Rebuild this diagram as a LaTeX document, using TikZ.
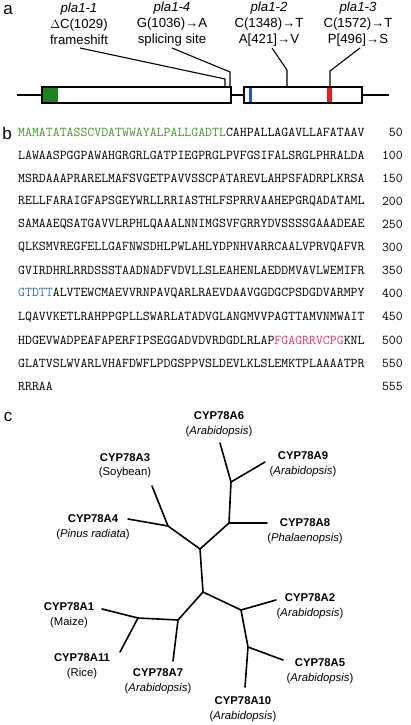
\documentclass[tikz,border=0pt]{standalone}
\usepackage{fontspec}
\setmainfont{Liberation Sans}
\definecolor{seqgreen}{RGB}{70,150,45}
\definecolor{seqblue}{RGB}{55,105,200}
\definecolor{seqpink}{RGB}{232,50,105}
\definecolor{exgreen}{RGB}{30,130,30}
\definecolor{exblue}{RGB}{35,80,220}
\definecolor{exred}{RGB}{230,30,30}
\tikzset{
  panel/.style={font=\fontsize{17}{17}\selectfont, inner sep=0pt},
  mutlab/.style={font=\fontsize{13.2}{16}\selectfont, align=center, inner sep=0pt},
  lead/.style={line width=1.1pt},
  exonbox/.style={draw, line width=1.1pt, fill=white},
  seqline/.style={font=\ttfamily\fontsize{13.45}{14}\selectfont, anchor=west, inner sep=0pt},
  seqnum/.style={font=\ttfamily\fontsize{13.45}{14}\selectfont, anchor=east, inner sep=0pt},
  leaf/.style={font=\fontsize{11.3}{14.5}\selectfont, align=center, inner sep=0pt},
  branch/.style={line width=1.6pt, line cap=round}
}
\begin{document}
\begin{tikzpicture}[x=1pt,y=-1pt]
\useasboundingbox (0,0) rectangle (410,725);
% ---------- panel a ----------
\node[panel] (pa) at (8,10) {a};
\node[mutlab] (m1) at (79,24) {\textit{pla1-1}\\$\Delta$C(1029)\\frameshift};
\node[mutlab] (m4) at (172,24) {\textit{pla1-4}\\G(1036)→A\\splicing site};
\node[mutlab] (m2) at (269,24) {\textit{pla1-2}\\C(1348)→T\\A[421]→V};
\node[mutlab] (m3) at (358,24) {\textit{pla1-3}\\C(1572)→T\\P[496]→S};
% backbone
\coordinate (bl) at (17,95);
\coordinate (br) at (389,95);
\draw[lead] (bl) -- (br);
% exons
\draw[exonbox] (42,87) rectangle (231,103);
\fill[exgreen] (42.6,87.6) rectangle (58,102.4);
\draw[line width=1.1pt] (42,87) rectangle (231,103);
\draw[exonbox] (244,87) rectangle (362,103);
\fill[exblue] (248.5,87.6) rectangle (252.3,102.4);
\fill[exred] (326.8,87.6) rectangle (332.2,102.4);
\draw[line width=1.1pt] (244,87) rectangle (362,103);
% leader lines
\coordinate (s1) at (80,48);   \coordinate (k1) at (225,79); \coordinate (e1) at (225,87);
\coordinate (s4) at (172,48);  \coordinate (k4) at (230,72); \coordinate (e4) at (230,87);
\coordinate (s2) at (272,48);  \coordinate (k2) at (287,70); \coordinate (e2) at (287,87);
\coordinate (s3) at (360,48);  \coordinate (k3) at (330,71); \coordinate (e3) at (330,87);
\draw[lead] (s1) -- (k1) -- (e1);
\draw[lead] (s4) -- (k4) -- (e4);
\draw[lead] (s2) -- (k2) -- (e2);
\draw[lead] (s3) -- (k3) -- (e3);
% ---------- panel b ----------
\node[panel] (pb) at (7,133) {b};
\node[seqline] (q1) at (18,132) {{\color{seqgreen}MAMATATASSCVDATWWAYALPALLGADTL}CAHPALLAGAVLLAFATAAV};
\node[seqline] (q2) at (18,155.1) {LAWAASPGGPAWAHGRGRLGATPIEGPRGLPVFGSIFALSRGLPHRALDA};
\node[seqline] (q3) at (18,178.2) {MSRDAAAPRARELMAFSVGETPAVVSSCPATAREVLAHPSFADRPLKRSA};
\node[seqline] (q4) at (18,201.3) {RELLFARAIGFAPSGEYWRLLRRIASTHLFSPRRVAAHEPGRQADATAML};
\node[seqline] (q5) at (18,224.4) {SAMAAEQSATGAVVLRPHLQAAALNNIMGSVFGRRYDVSSSSGAAADEAE};
\node[seqline] (q6) at (18,247.5) {QLKSMVREGFELLGAFNWSDHLPWLAHLYDPNHVARRCAALVPRVQAFVR};
\node[seqline] (q7) at (18,270.6) {GVIRDHRLRRDSSSTAADNADFVDVLLSLEAHENLAEDDMVAVLWEMIFR};
\node[seqline] (q8) at (18,293.7) {{\color{seqblue}GTDTT}ALVTEWCMAEVVRNPAVQARLRAEVDAAVGGDGCPSDGDVARMPY};
\node[seqline] (q9) at (18,316.8) {LQAVVKETLRAHPPGPLLSWARLATADVGLANGMVVPAGTTAMVNMWAIT};
\node[seqline] (q10) at (18,339.9) {HDGEVWADPEAFAPERFIPSEGGADVDVRDGDLRLAP{\color{seqpink}FGAGRRVCPG}KNL};
\node[seqline] (q11) at (18,363) {GLATVSLWVARLVHAFDWFLPDGSPPVSLDEVLKLSLEMKTPLAAAATPR};
\node[seqline] (q12) at (18,386.1) {RRRAA};
\node[seqnum] (n1) at (403,132) {50};
\node[seqnum] (n2) at (403,155.1) {100};
\node[seqnum] (n3) at (403,178.2) {150};
\node[seqnum] (n4) at (403,201.3) {200};
\node[seqnum] (n5) at (403,224.4) {250};
\node[seqnum] (n6) at (403,247.5) {300};
\node[seqnum] (n7) at (403,270.6) {350};
\node[seqnum] (n8) at (403,293.7) {400};
\node[seqnum] (n9) at (403,316.8) {450};
\node[seqnum] (n10) at (403,339.9) {500};
\node[seqnum] (n11) at (403,363) {550};
\node[seqnum] (n12) at (403,386.1) {555};
% ---------- panel c ----------
\node[panel] (pc) at (8,417) {c};
% internal nodes
\coordinate (t1) at (231,482);
\coordinate (t2) at (229,523);
\coordinate (t3) at (200,549);
\coordinate (t4) at (168,526);
\coordinate (t5) at (203,592);
\coordinate (t6) at (178,620);
\coordinate (t7) at (138,618);
\coordinate (t8) at (241,610);
\coordinate (t9) at (248,647);
% leaf ends
\coordinate (eA6) at (220,443);
\coordinate (eA9) at (265,462);
\coordinate (eA8) at (267,523);
\coordinate (eA4) at (128,519);
\coordinate (eA3) at (152,486);
\coordinate (eA7) at (173,661);
\coordinate (eA1) at (102,609);
\coordinate (eA11) at (120,652);
\coordinate (eA2) at (276,600);
\coordinate (eA5) at (283,660);
\coordinate (eA10) at (245,687);
\draw[branch] (eA6) -- (t1) -- (eA9);
\draw[branch] (t1) -- (t2) -- (eA8);
\draw[branch] (t2) -- (t3) -- (t4) -- (eA4);
\draw[branch] (t4) -- (eA3);
\draw[branch] (t3) -- (t5) -- (t6) -- (eA7);
\draw[branch] (t6) -- (t7) -- (eA1);
\draw[branch] (t7) -- (eA11);
\draw[branch] (t5) -- (t8) -- (eA2);
\draw[branch] (t8) -- (t9) -- (eA5);
\draw[branch] (t9) -- (eA10);
% leaf labels
\node[leaf] (lA6) at (219,424) {\textbf{CYP78A6}\\(\textit{Arabidopsis})};
\node[leaf] (lA9) at (303,464) {\textbf{CYP78A9}\\(\textit{Arabidopsis})};
\node[leaf] (lA3) at (125,465.5) {\textbf{CYP78A3}\\(Soybean)};
\node[leaf] (lA4) at (93,527) {\textbf{CYP78A4}\\(\textit{Pinus radiata})};
\node[leaf] (lA8) at (305,531) {\textbf{CYP78A8}\\(\textit{Phalaenopsis})};
\node[leaf] (lA1) at (69,615) {\textbf{CYP78A1}\\(Maize)};
\node[leaf] (lA11) at (82,666) {\textbf{CYP78A11}\\(Rice)};
\node[leaf] (lA7) at (158,681) {\textbf{CYP78A7}\\(\textit{Arabidopsis})};
\node[leaf] (lA2) at (310,606) {\textbf{CYP78A2}\\(\textit{Arabidopsis})};
\node[leaf] (lA5) at (320,671) {\textbf{CYP78A5}\\(\textit{Arabidopsis})};
\node[leaf] (lA10) at (243,709) {\textbf{CYP78A10}\\(\textit{Arabidopsis})};
\end{tikzpicture}
\end{document}
